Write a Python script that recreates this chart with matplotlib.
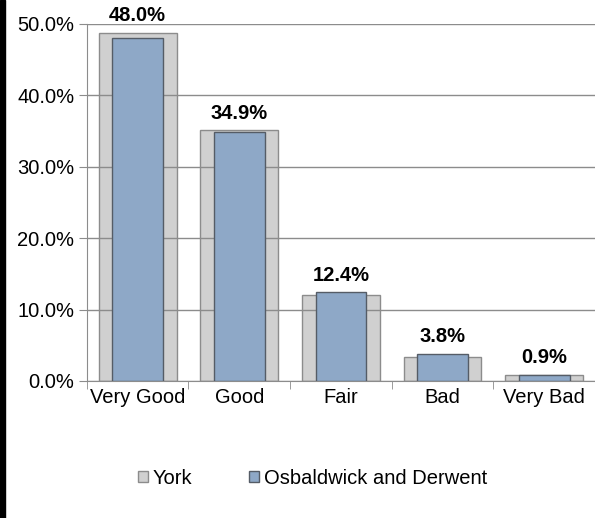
import numpy as np
import matplotlib.pyplot as plt
from matplotlib.patches import Rectangle

plt.rcParams['font.family'] = ['Liberation Sans', 'DejaVu Sans']

categories = ['Very Good', 'Good', 'Fair', 'Bad', 'Very Bad']
york = [48.7, 35.1, 12.1, 3.3, 0.9]
osbaldwick = [48.0, 34.9, 12.4, 3.8, 0.9]
labels = ['48.0%', '34.9%', '12.4%', '3.8%', '0.9%']

fig = plt.figure(figsize=(5.95, 5.18), dpi=100)
ax = fig.add_axes([0.146, 0.2645, 0.854, 0.6892])

# black strip down the left edge
fig.patches.append(Rectangle((0, 0), 5 / 595, 1, transform=fig.transFigure,
                             color='black', zorder=10))

x = np.arange(len(categories))
ax.bar(x, york, width=0.765, color='#d0d0d0', edgecolor='#8c8c8c',
       linewidth=1.0, label='York', zorder=2)
ax.bar(x, osbaldwick, width=0.5, color='#8ea8c7', edgecolor='#555c66',
       linewidth=1.0, label='Osbaldwick and Derwent', zorder=3)

for xi, v, t in zip(x, osbaldwick, labels):
    top = max(v, york[xi])
    ax.text(xi, top + 1.1, t, ha='center', va='bottom', fontsize=14.5,
            fontweight='bold')

ax.set_xlim(-0.5, len(categories) - 0.5)
ax.set_ylim(0, 50)
ax.set_yticks(np.arange(0, 51, 10))
ax.set_yticklabels(['%.1f%%' % v for v in np.arange(0, 51, 10)])
ax.yaxis.grid(True, color='#8c8c8c', linewidth=1.0, zorder=4)
ax.set_axisbelow(False)

ax.set_xticks(x)
ax.set_xticklabels(categories)
ax.set_xticks(np.arange(-0.5, len(categories), 1), minor=True)
ax.tick_params(axis='x', which='major', length=0, labelsize=14.5, pad=5)
ax.tick_params(axis='x', which='minor', length=6, color='#8c8c8c')
ax.tick_params(axis='y', length=6, color='#8c8c8c', labelsize=14.5, pad=3)

for s in ['top', 'right']:
    ax.spines[s].set_visible(False)
for s in ['left', 'bottom']:
    ax.spines[s].set_color('#8c8c8c')

fig.legend(loc='center', bbox_to_anchor=(0.525, 0.077), ncol=2, frameon=False,
           fontsize=14.5, handlelength=0.5, handleheight=0.5, handletextpad=0.25,
           columnspacing=2.8)

fig.savefig('out.png', dpi=100)
